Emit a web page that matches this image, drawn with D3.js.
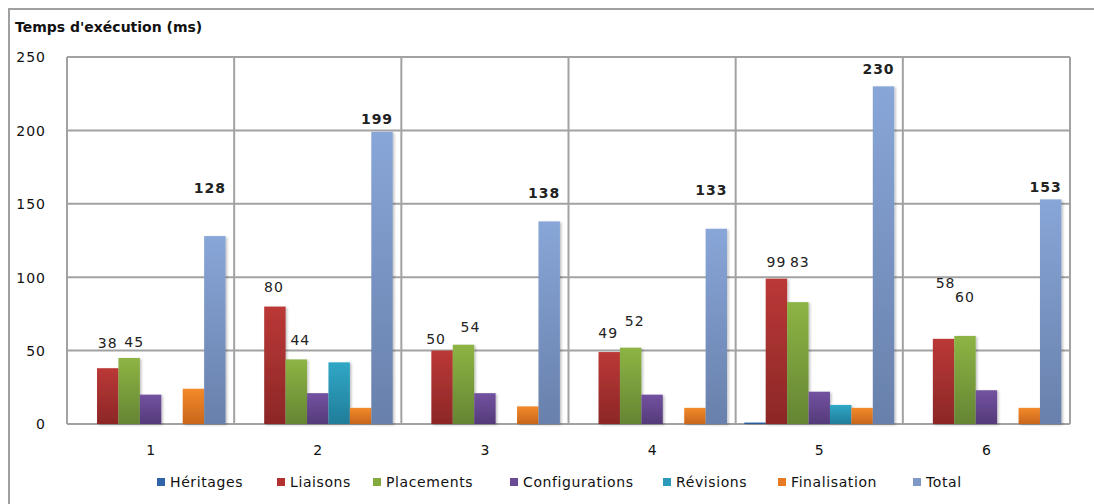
<!DOCTYPE html>
<html>
<head>
<meta charset="utf-8">
<script src="https://cdn.jsdelivr.net/npm/d3@7"></script>
<style>
  html, body { margin: 0; padding: 0; background: #fff; }
  svg { display: block; font-family: "DejaVu Sans", Verdana, sans-serif; }
</style>
</head>
<body>
<svg id="chart" width="1094" height="504"></svg>
<script>
// ---- data ----
const categories = ["1", "2", "3", "4", "5", "6"];
const seriesNames = ["Héritages", "Liaisons", "Placements", "Configurations", "Révisions", "Finalisation", "Total"];
const heritages      = [0, 0, 0, 0, 1, 0];
const liaisons       = [38, 80, 50, 49, 99, 58];
const placements     = [45, 44, 54, 52, 83, 60];
const configurations = [20, 21, 21, 20, 22, 23];
const revisions      = [0, 42, 0, 0, 13, 0];
const finalisation   = [24, 11, 12, 11, 11, 11];
const total          = [128, 199, 138, 133, 230, 153];
const yTicks = [0, 50, 100, 150, 200, 250];
const yTitle = "Temps d'exécution (ms)";

// label anchor levels (in data units, as placed in the original chart)
const liaisonLabelAt   = [55, 93, 58, 62, 110, 96];
const placementLabelAt = [56, 57, 66, 70, 110, 86.5];
const totalLabelAt     = [161, 207.5, 157.5, 159.5, 242, 161.5];

// ---- layout / style ----
const W = 1094, H = 504;
const plot = { left: 67, right: 1070, top: 57, bottom: 424 };
const colors = [
  ["#3a6fb5", "#24518c"],
  ["#bb3836", "#8c2727"],
  ["#8db444", "#658533"],
  ["#7352a0", "#543a7a"],
  ["#30a7c6", "#207d99"],
  ["#f38a2a", "#c8661c"],
  ["#88a6d8", "#6880ab"]
];
const legendColors = ["#2f64a8", "#b3322f", "#84a93f", "#6b4a96", "#2c9bbb", "#e67b24", "#7e99c8"];
const legendX = [157, 277, 373, 510, 663, 778, 913];
const liaisonDx = [0, -1, -6, -1, 0, 2];
const placementDx = [5, 4, 7, 4, 2, 0];
const totalDx = -5;

const seriesValues = [heritages, liaisons, placements, configurations, revisions, finalisation, total];

const svg = d3.select("#chart");
const defs = svg.append("defs");
colors.forEach((c, i) => {
  const g = defs.append("linearGradient").attr("id", "grad" + i)
    .attr("x1", 0).attr("y1", 0).attr("x2", 0).attr("y2", 1);
  g.append("stop").attr("offset", "0%").attr("stop-color", c[0]);
  g.append("stop").attr("offset", "100%").attr("stop-color", c[1]);
});
const f = defs.append("filter").attr("id", "shadow").attr("x", "-20%").attr("y", "-5%").attr("width", "150%").attr("height", "115%");
f.append("feDropShadow").attr("dx", 1.5).attr("dy", 1).attr("stdDeviation", 1).attr("flood-color", "#000").attr("flood-opacity", 0.25);

// outer frame
svg.append("path").attr("d", `M9,${H} L9,9 L${W},9`).attr("fill", "none")
  .attr("stroke", "#a0a0a0").attr("stroke-width", 2);

const x = d3.scaleBand().domain(categories).range([plot.left, plot.right]).padding(0);
const inner = d3.scaleBand().domain(d3.range(seriesNames.length))
  .range([8.6, x.bandwidth() - 8.6]).padding(0);
const y = d3.scaleLinear().domain([0, 250]).range([plot.bottom, plot.top]);

// grid
const grid = svg.append("g");
grid.selectAll("line.h").data(yTicks).join("line")
  .attr("x1", plot.left).attr("x2", plot.right)
  .attr("y1", d => y(d)).attr("y2", d => y(d))
  .attr("stroke", "#a2a2a2").attr("stroke-width", 2);
grid.selectAll("line.v").data(d3.range(categories.length + 1)).join("line")
  .attr("x1", i => plot.left + i * x.bandwidth()).attr("x2", i => plot.left + i * x.bandwidth())
  .attr("y1", plot.top).attr("y2", plot.bottom)
  .attr("stroke", "#a2a2a2").attr("stroke-width", 2);

// y axis labels
const yAxis = d3.axisLeft(y).tickValues(yTicks).tickSize(0).tickPadding(0);
const yg = svg.append("g").attr("transform", "translate(46,0)").call(yAxis);
yg.select(".domain").remove();
yg.selectAll("text").attr("font-size", 14).attr("letter-spacing", 1).attr("fill", "#111")
  .attr("font-family", "DejaVu Sans, sans-serif").attr("dy", "0.35em");

// x axis labels
const xAxis = d3.axisBottom(x).tickSize(0).tickPadding(0);
const xg = svg.append("g").attr("transform", "translate(0,445)").call(xAxis);
xg.select(".domain").remove();
xg.selectAll("text").attr("font-size", 14).attr("fill", "#111").attr("dy", "0.71em")
  .attr("font-family", "DejaVu Sans, sans-serif");

// bars
const barsG = svg.append("g");
seriesValues.forEach((vals, si) => {
  barsG.append("g").selectAll("rect").data(vals.map((v, ci) => ({ v, c: categories[ci] })))
    .join("rect")
    .filter(d => d.v > 0)
    .attr("x", d => x(d.c) + inner(si))
    .attr("width", inner.bandwidth())
    .attr("y", d => y(d.v))
    .attr("height", d => y(0) - y(d.v))
    .attr("fill", `url(#grad${si})`)
    .attr("filter", "url(#shadow)");
});

// data labels
const labelG = svg.append("g").attr("font-size", 14).attr("fill", "#222").attr("text-anchor", "middle");
function addLabels(vals, at, si, dxs, bold) {
  labelG.append("g").selectAll("text").data(vals.map((v, ci) => ({ v, ci })))
    .join("text")
    .attr("x", d => x(categories[d.ci]) + inner(si) + inner.bandwidth() / 2 + (Array.isArray(dxs) ? dxs[d.ci] : dxs))
    .attr("y", d => y(at[d.ci]))
    .attr("dy", "0.35em")
    .attr("letter-spacing", 1)
    .attr("font-weight", bold ? "bold" : "normal")
    .text(d => d.v);
}
addLabels(liaisons, liaisonLabelAt, 1, liaisonDx, false);
addLabels(placements, placementLabelAt, 2, placementDx, false);
addLabels(total, totalLabelAt, 6, totalDx, true);

// title
svg.append("text").attr("x", 15).attr("y", 27).attr("dy", "0.35em")
  .attr("font-size", 14).attr("font-weight", "bold").attr("fill", "#111")
  .text(yTitle);

// legend
const lg = svg.append("g");
seriesNames.forEach((name, i) => {
  const g = lg.append("g").attr("transform", `translate(${legendX[i]},482)`);
  g.append("rect").attr("x", 0).attr("y", -4).attr("width", 8).attr("height", 8).attr("fill", legendColors[i]);
  g.append("text").attr("x", 13).attr("y", 0).attr("dy", "0.35em")
    .attr("font-size", 14).attr("letter-spacing", 0.6).attr("fill", "#111").text(name);
});
</script>
</body>
</html>
